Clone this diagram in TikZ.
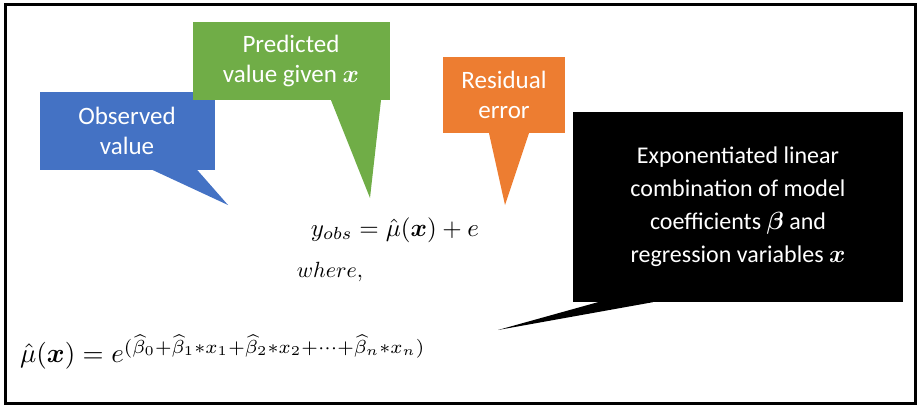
\documentclass[tikz,border=0pt]{standalone}
\usepackage{amsmath,bm}
\usepackage{fontspec}
\setmainfont{Carlito}
\definecolor{obsblue}{RGB}{68,114,196}
\definecolor{predgreen}{RGB}{112,173,71}
\definecolor{resorange}{RGB}{237,125,49}
\begin{document}
\begin{tikzpicture}[x=1pt,y=-1pt,
  callout/.style={inner sep=0pt, align=center, text=white, font=\fontsize{25}{30}\selectfont},
  eqn/.style={inner sep=0pt}]
\useasboundingbox (0,0) rectangle (921,409);
\draw[line width=3pt] (5,5) rectangle (915,403);

% callout boxes
\node[callout, fill=obsblue, minimum width=175pt, minimum height=77pt] at (127,131) (observed) {Observed\\value};
\node[callout, fill=predgreen, minimum width=197pt, minimum height=78pt] at (291,61) (predicted) {Predicted\\value given $\bm{x}$};
\node[callout, fill=resorange, minimum width=122pt, minimum height=76pt] at (504,95) (residual) {Residual\\error};
\node[callout, fill=black, minimum width=330pt, minimum height=190pt, font=\fontsize{24}{33}\selectfont] at (738,207) (linear) {Exponentiated linear\\combination of model\\coefficients $\bm{\beta}$ and\\regression variables $\bm{x}$};

% pointer tips
\coordinate (observedtip) at (228,205);
\coordinate (predictedtip) at (370,198);
\coordinate (residualtip) at (505,205);
\coordinate (lineartip) at (498,330);

\fill[obsblue] ([xshift=25pt]observed.south) -- ([xshift=70pt]observed.south) -- (observedtip) -- cycle;
\fill[predgreen] ([xshift=40pt]predicted.south) -- ([xshift=90pt]predicted.south) -- (predictedtip) -- cycle;
\fill[resorange] ([xshift=-15pt]residual.south) -- ([xshift=25pt]residual.south) -- (residualtip) -- cycle;
\fill[black] ([xshift=25pt]linear.south west) -- ([xshift=80pt]linear.south west) -- (lineartip) -- cycle;

% equations
\node[eqn] at (395,230) (model) {\scalebox{2.5}{$y_{obs} = \hat{\mu}(\bm{x}) + e$}};
\node[eqn] at (330,272) (where) {\scalebox{2.2}{$where,$}};
\node[eqn, anchor=west] at (20,352) (mean) {\scalebox{2.7}{$\hat{\mu}(\bm{x}) = e^{(\widehat{\beta}_0+\widehat{\beta}_1 * x_1+\widehat{\beta}_2 * x_2+\cdots+\widehat{\beta}_n * x_n)}$}};
\end{tikzpicture}
\end{document}
